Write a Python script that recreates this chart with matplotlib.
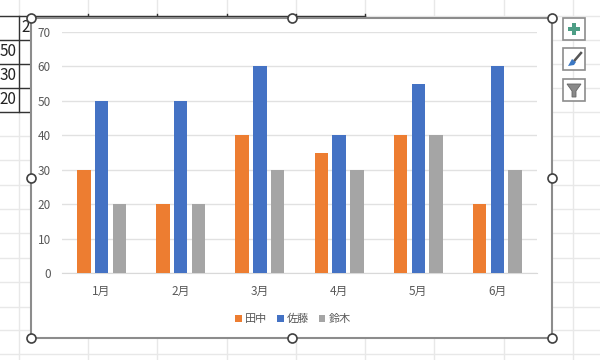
import numpy as np
import matplotlib.pyplot as plt
from matplotlib.patches import Rectangle, Polygon

plt.rcParams['font.family'] = ['Noto Sans CJK JP', 'DejaVu Sans']

months = ["1月", "2月", "3月", "4月", "5月", "6月"]
tanaka = [30, 20, 40, 35, 40, 20]
sato = [50, 50, 60, 40, 55, 60]
suzuki = [20, 20, 30, 30, 40, 30]
series_names = ["田中", "佐藤", "鈴木"]
series_colors = ["#ED7D31", "#4472C4", "#A5A5A5"]
yticks = [0, 10, 20, 30, 40, 50, 60, 70]
cell_values = ["50", "30", "20"]

W, H = 600, 360
fig = plt.figure(figsize=(W/100, H/100), dpi=100)

# sheet behind the chart, in pixel coordinates
bg = fig.add_axes([0, 0, 1, 1])
bg.set_xlim(0, W)
bg.set_ylim(H, 0)
bg.axis("off")

col_x = [19, 88, 157, 227, 296, 365, 434, 504, 573]
row_y = [16, 40, 64, 88, 112, 136, 160, 185, 209, 233, 258, 282, 307, 330, 354]
for x in col_x:
	bg.plot([x, x], [0, H], color="#E8E8E8", lw=1, zorder=1)
for y in row_y:
	bg.plot([0, W], [y, y], color="#E8E8E8", lw=1, zorder=1)

# the black table peeking out at top left
bg.plot([0, 365], [16, 16], color="#333333", lw=1, zorder=2)
bg.plot([19, 19], [16, 112], color="#333333", lw=1, zorder=2)
for y in [40, 64, 88, 112]:
	bg.plot([0, 31], [y, y], color="#333333", lw=1, zorder=2)
for x in col_x[1:6]:
	bg.plot([x, x], [14, 18], color="#333333", lw=1, zorder=2)
bg.text(26, 28, "2", fontsize=11, ha="center", va="center", color="#222222", zorder=2)
for val, y in zip(cell_values, [52, 76, 100]):
	bg.text(16.5, y, val, fontsize=11, ha="right", va="center", color="#222222", zorder=2)

# chart area
bg.add_patch(Rectangle((31, 18), 521, 320, fc="white", ec="#8C8C8C", lw=1.5, zorder=3))

ax = fig.add_axes([62/W, 1 - 273/H, 475/W, 241/H], zorder=2)
ax.patch.set_alpha(0)
x = np.arange(len(months))
width = 0.17
step = 0.224
for i, vals in enumerate([tanaka, sato, suzuki]):
	ax.bar(x + (i - 1)*step, vals, width, color=series_colors[i], label=series_names[i], zorder=3)

ax.set_xlim(-0.5, 5.5)
ax.set_ylim(0, 70)
ax.set_yticks(yticks)
ax.set_xticks(x)
ax.set_xticklabels(months)
ax.tick_params(length=0, labelsize=8.5, labelcolor="#595959")
ax.tick_params(axis="x", pad=8.5)
ax.tick_params(axis="y", pad=8)
ax.grid(axis="y", color="#E1E1E1", lw=1, zorder=0)
ax.set_axisbelow(True)
for s in ["top", "right", "left"]:
	ax.spines[s].set_visible(False)
ax.spines["bottom"].set_color("#D9D9D9")

ax.legend(loc="center", bbox_to_anchor=((293 - 62)/475, (273 - 319)/241), ncol=3, frameon=False,
	fontsize=8, labelcolor="#595959", handlelength=0.6, handleheight=0.6,
	handletextpad=0.3, columnspacing=0.85, borderpad=0)

# selection handles, on top of everything
top = fig.add_axes([0, 0, 1, 1], zorder=5)
top.set_xlim(0, W)
top.set_ylim(H, 0)
top.axis("off")
hx = [31, 292, 552, 31, 552, 31, 292, 552]
hy = [18, 18, 18, 178, 178, 338, 338, 338]
top.scatter(hx, hy, s=42, facecolor="white", edgecolor="#404040", linewidth=1.2, zorder=6)

# the three buttons beside the chart
for y in [18, 48, 79]:
	top.add_patch(Rectangle((563, y), 22, 22, fc="white", ec="#8C8C8C", lw=1.2, zorder=6))
top.add_patch(Rectangle((572, 23), 4, 12, fc="#4E9E86", ec="none", zorder=7))
top.add_patch(Rectangle((568, 27), 12, 4, fc="#4E9E86", ec="none", zorder=7))
top.add_patch(Polygon([[568, 66], [572, 59], [576, 62], [574, 65]], fc="#3B78C4", ec="none", zorder=7))
top.plot([575, 581], [60, 53], color="#555555", lw=1.8, zorder=7)
top.add_patch(Polygon([[567, 84], [581, 84], [576, 91], [576, 97], [572, 97], [572, 91]], fc="#8A8A8A", ec="#666666", lw=0.6, zorder=7))

fig.savefig("out.png", dpi=100)
